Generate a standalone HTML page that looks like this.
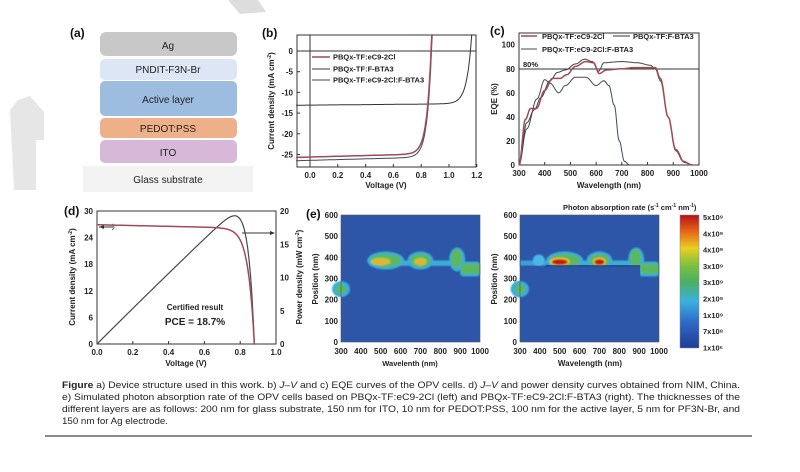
<!DOCTYPE html>
<html><head><meta charset="utf-8"><style>
html,body{margin:0;padding:0;background:#fff;}
svg{display:block;font-family:"Liberation Sans",Arial,sans-serif;}
.t{font-size:8px;font-weight:bold;fill:#222}
.l{font-size:7.5px;font-weight:bold;fill:#222}
.lab{font-size:12px;font-weight:bold;fill:#111}
.cap{font-size:9.2px;fill:#222}
</style></head><body>
<svg id="s" width="800" height="472" viewBox="0 0 800 472" xmlns="http://www.w3.org/2000/svg">
<defs>
<linearGradient id="jet" x1="0" y1="1" x2="0" y2="0">
<stop offset="0" stop-color="#1f3c96"/><stop offset="0.2" stop-color="#2f6cc8"/>
<stop offset="0.35" stop-color="#3bb0e0"/><stop offset="0.5" stop-color="#4cb060"/>
<stop offset="0.62" stop-color="#7cc040"/><stop offset="0.75" stop-color="#e8d020"/>
<stop offset="0.87" stop-color="#e86a18"/><stop offset="1" stop-color="#b8101a"/>
</linearGradient>
<filter id="bl"><feGaussianBlur stdDeviation="0.7"/></filter>
</defs>
<polygon points="228,0 258,0 266,12 240,14" fill="#ddd"/>
<path d="M18,100 L30,96 L44,112 L44,140 L36,140 L36,190 L14,190 L10,110 Z" fill="#e6e6e6"/>

<text x="70" y="37" class="lab">(a)</text>
<rect x="100" y="32" width="137" height="24" rx="6" fill="#c8c8c8"/>
<text x="168" y="49" text-anchor="middle" font-size="10" fill="#222">Ag</text>
<rect x="100" y="59" width="137" height="21" rx="5" fill="#dde6f4"/>
<text x="168" y="73" text-anchor="middle" font-size="10" fill="#222">PNDIT-F3N-Br</text>
<rect x="100" y="81" width="137" height="35" rx="5" fill="#9dbde0"/>
<text x="168" y="103" text-anchor="middle" font-size="10" fill="#222">Active layer</text>
<rect x="100" y="118" width="137" height="20" rx="5" fill="#eeb088"/>
<text x="168" y="132" text-anchor="middle" font-size="10" fill="#222">PEDOT:PSS</text>
<rect x="100" y="140" width="137" height="23" rx="5" fill="#d8b8d8"/>
<text x="168" y="156" text-anchor="middle" font-size="10" fill="#222">ITO</text>
<rect x="83" y="166" width="170" height="26" fill="#f3f3f3"/>
<text x="168" y="183" text-anchor="middle" font-size="10" fill="#222">Glass substrate</text>

<text x="262" y="37" class="lab">(b)</text>
<rect x="297" y="35" width="179" height="132" fill="none" stroke="#333" stroke-width="1"/>
<line x1="297" y1="51" x2="476" y2="51" stroke="#333" stroke-width="1"/>
<line x1="310" y1="35" x2="310" y2="167" stroke="#333" stroke-width="1"/>
<g id="bt"></g>
<text x="386" y="188" text-anchor="middle" class="t">Voltage (V)</text>
<text transform="translate(274,101) rotate(-90)" text-anchor="middle" class="t">Current density (mA cm<tspan dy="-3" font-size="5">-2</tspan><tspan dy="3">)</tspan></text>
<line x1="312" y1="57" x2="330" y2="57" stroke="#a04a55" stroke-width="1.5"/>
<text x="333" y="59.5" class="l">PBQx-TF:eC9-2Cl</text>
<line x1="312" y1="69" x2="330" y2="69" stroke="#333" stroke-width="1"/>
<text x="333" y="71.5" class="l">PBQx-TF:F-BTA3</text>
<line x1="312" y1="80" x2="330" y2="80" stroke="#3d4a5a" stroke-width="1"/>
<text x="333" y="82.5" class="l">PBQx-TF:eC9-2Cl:F-BTA3</text>

<text x="490" y="35" class="lab">(c)</text>
<rect x="519" y="33" width="180" height="132" fill="none" stroke="#333"/>
<line x1="519" y1="69" x2="699" y2="69" stroke="#333"/>
<text x="523" y="67" class="l">80%</text>
<g id="ct"></g>
<text x="609" y="188" text-anchor="middle" class="t">Wavelength (nm)</text>
<text transform="translate(497,99) rotate(-90)" text-anchor="middle" class="t">EQE (%)</text>
<line x1="521" y1="36" x2="537" y2="36" stroke="#a04a55" stroke-width="1.5"/>
<text x="542" y="39" class="l">PBQx-TF:eC9-2Cl</text>
<line x1="613" y1="36" x2="630" y2="36" stroke="#333"/>
<text x="633" y="39" class="l">PBQx-TF:F-BTA3</text>
<line x1="521" y1="49" x2="537" y2="49" stroke="#3d4a5a"/>
<text x="542" y="52" class="l">PBQx-TF:eC9-2Cl:F-BTA3</text>

<text x="64" y="215" class="lab">(d)</text>
<rect x="97" y="211" width="179" height="133" fill="none" stroke="#333"/>
<g id="dt"></g>
<text x="186" y="366" text-anchor="middle" class="t">Voltage (V)</text>
<text transform="translate(75,277) rotate(-90)" text-anchor="middle" class="t">Current density (mA cm<tspan dy="-3" font-size="5">-2</tspan><tspan dy="3">)</tspan></text>
<text transform="translate(302,277) rotate(-90)" text-anchor="middle" class="t">Power density (mW cm<tspan dy="-3" font-size="5">-2</tspan><tspan dy="3">)</tspan></text>
<text x="195" y="310" text-anchor="middle" class="t" font-size="8.5">Certified result</text>
<text x="195" y="325" text-anchor="middle" font-size="10" font-weight="bold" fill="#222">PCE = 18.7%</text>
<line x1="99" y1="227" x2="113" y2="227" stroke="#333"/>
<polygon points="99,227 104,225 104,229" fill="#333"/>
<path d="M112,224 q4,3 0,6" fill="none" stroke="#666"/>
<line x1="242" y1="233" x2="273" y2="233" stroke="#333"/>
<polygon points="275,233 270,231 270,235" fill="#333"/>

<text x="306" y="218" class="lab">(e)</text>
<g id="e1"></g><g id="e2"></g>
<text x="410" y="366" text-anchor="middle" class="l">Wavelenth (nm)</text>
<text x="590" y="366" text-anchor="middle" class="t">Wavelength (nm)</text>
<text transform="translate(318,279) rotate(-90)" text-anchor="middle" class="t">Position (nm)</text>
<text transform="translate(497,279) rotate(-90)" text-anchor="middle" class="t">Position (nm)</text>
<text x="563" y="210" class="l">Photon absorption rate (s<tspan dy="-3" font-size="5">-1</tspan><tspan dy="3"> cm</tspan><tspan dy="-3" font-size="5">-1</tspan><tspan dy="3"> nm</tspan><tspan dy="-3" font-size="5">-1</tspan><tspan dy="3">)</tspan></text>
<rect x="680" y="215" width="19" height="133" fill="url(#jet)" stroke="#888" stroke-width="0.5"/>
<g id="cb"></g>

<text x="62" y="388" class="cap" textLength="678" lengthAdjust="spacingAndGlyphs"><tspan font-weight="bold">Figure</tspan>     a) Device structure used in this work. b) <tspan font-style="italic">J–V</tspan> and c) EQE curves of the OPV cells. d) <tspan font-style="italic">J–V</tspan> and power density curves obtained from NIM, China.</text>
<text x="62" y="400" class="cap" textLength="678" lengthAdjust="spacingAndGlyphs">e) Simulated photon absorption rate of the OPV cells based on PBQx-TF:eC9-2Cl (left) and PBQx-TF:eC9-2Cl:F-BTA3 (right). The thicknesses of the</text>
<text x="62" y="412" class="cap" textLength="678" lengthAdjust="spacingAndGlyphs">different layers are as follows: 200 nm for glass substrate, 150 nm for ITO, 10 nm for PEDOT:PSS, 100 nm for the active layer, 5 nm for PF3N-Br, and</text>
<text x="62" y="424" class="cap" textLength="106" lengthAdjust="spacingAndGlyphs">150 nm for Ag electrode.</text>
<line x1="45" y1="436" x2="752" y2="436" stroke="#444" stroke-width="1.2"/>
</svg>
<script>
const NS="http://www.w3.org/2000/svg";
function el(g,tag,a,txt){const e=document.createElementNS(NS,tag);for(const k in a)e.setAttribute(k,a[k]);if(txt!==undefined)e.textContent=txt;(typeof g==="string"?document.getElementById(g):g).appendChild(e);return e;}
function P(pts){return "M"+pts.map(p=>p[0].toFixed(1)+","+p[1].toFixed(1)).join(" L");}
const bx=v=>310+v*139, by=j=>51-j*4.14;
[0.0,0.2,0.4,0.6,0.8,1.0,1.2].forEach(v=>{el("bt","line",{x1:bx(v),y1:167,x2:bx(v),y2:164,stroke:"#333"});el("bt","text",{x:bx(v),y:178,"text-anchor":"middle",class:"t"},v.toFixed(1));});
[0,-5,-10,-15,-20,-25].forEach(j=>{el("bt","line",{x1:297,y1:by(j),x2:300,y2:by(j),stroke:"#333"});el("bt","text",{x:293,y:by(j)+3,"text-anchor":"end",class:"t"},j);});
function jv(jsc,voc,s,sl,col,w,g){const pts=[];for(let v=-0.1;v<=1.25;v+=0.004){let j=-jsc+sl*(v+0.1)+jsc*Math.exp((v-voc)/s);if(j>4){pts.push([bx(v),by(4)]);break;}pts.push([bx(v),by(j)]);}el(g,"path",{d:P(pts),fill:"none",stroke:col,"stroke-width":w});}
jv(13.1,1.155,0.035,0.3,"#333",1,"bt");
jv(26.5,0.875,0.032,0.9,"#3d4a5a",1,"bt");
jv(25.7,0.872,0.032,0.9,"#a04a55",1.5,"bt");
const cx=w=>519+(w-300)*0.2571, cy=e=>165-e*1.203;
[300,400,500,600,700,800,900,1000].forEach(w=>{el("ct","line",{x1:cx(w),y1:165,x2:cx(w),y2:162,stroke:"#333"});el("ct","text",{x:cx(w),y:176,"text-anchor":"middle",class:"t"},w);});
[0,20,40,60,80,100].forEach(e=>{el("ct","text",{x:515,y:cy(e)+3,"text-anchor":"end",class:"t"},e);});
function sm(arr){const pts=[];for(let i=0;i<arr.length-1;i++){const[a,b]=[arr[i],arr[i+1]];for(let t=0;t<1;t+=0.1){const u=(1-Math.cos(t*Math.PI))/2;pts.push([cx(a[0]+(b[0]-a[0])*t),cy(a[1]+(b[1]-a[1])*u)]);}}const l=arr[arr.length-1];pts.push([cx(l[0]),cy(l[1])]);return P(pts);}
el("ct","path",{d:sm([[300,0],[330,35],[360,46],[385,56],[420,70],[450,77],[480,79],[520,84],[555,88],[585,86],[610,78],[630,85],[700,86],[760,85],[810,83],[830,80],[850,70],[880,40],[910,13],[945,2],[980,0]]),fill:"none",stroke:"#444","stroke-width":1});
el("ct","path",{d:sm([[300,0],[330,30],[370,55],[400,71],[420,68],[455,60],[480,66],[520,73],[560,73],[600,66],[630,70],[650,66],[670,50],[690,20],[710,3],[730,0]]),fill:"none",stroke:"#3d4a5a","stroke-width":1});
el("ct","path",{d:sm([[300,0],[325,38],[345,47],[368,47],[400,62],[430,72],[460,72],[485,75],[520,82],[560,86],[590,85],[612,76],[640,79],[700,80],[750,81],[800,81],[830,81],[850,72],[880,40],[910,12],[940,3],[970,0]]),fill:"none",stroke:"#a04a55","stroke-width":1.5});
const dx=v=>97+v*179, dy=j=>344-j*4.433, dp=p=>344-p*6.65;
[0,0.2,0.4,0.6,0.8,1.0].forEach(v=>{el("dt","line",{x1:dx(v),y1:344,x2:dx(v),y2:341,stroke:"#333"});el("dt","text",{x:dx(v),y:355,"text-anchor":"middle",class:"t"},v.toFixed(1));});
[0,6,12,18,24,30].forEach(j=>el("dt","text",{x:93,y:dy(j)+3,"text-anchor":"end",class:"t"},j));
[0,5,10,15,20].forEach(p=>el("dt","text",{x:280,y:dp(p)+3,class:"t"},p));
{const J=[],Pw=[];for(let v=0;v<=0.885;v+=0.003){let j=26.9-0.9*v-26.9*Math.exp((v-0.88)/0.035);if(j<0)j=0;J.push([dx(v),dy(j)]);Pw.push([dx(v),dp(j*v)]);}
el("dt","path",{d:P(Pw),fill:"none",stroke:"#3d4a5a","stroke-width":1.2});
el("dt","path",{d:P(J),fill:"none",stroke:"#a04a55","stroke-width":1.5});}
function heat(g,x0,x1,right){const W=x1-x0,T=215,B=342;const ex=w=>x0+(w-300)*W/700, ey=p=>B-p*(B-T)/600;
el(g,"rect",{x:x0,y:T,width:W,height:B-T,fill:"#2d56a8"});
const gg=el(g,"g",{filter:"url(#bl)"});
const R=a=>el(gg,"ellipse",a);
const RR=a=>el(gg,"rect",a);
R({cx:ex(300),cy:ey(250),rx:9,ry:8,fill:"#3aaed8"});R({cx:ex(300),cy:ey(250),rx:5,ry:5,fill:"#5cb860"});
RR({x:ex(445),y:ey(385),width:ex(905)-ex(445),height:ey(360)-ey(385),fill:"#3aaed8"});
R({cx:ex(885),cy:ey(390),rx:8,ry:12,fill:"#3aaed8"});
R({cx:ex(882),cy:ey(395),rx:5.5,ry:9.5,fill:"#5cb860"});
RR({x:ex(900),y:ey(380),width:ex(1000)-ex(900),height:ey(310)-ey(380),fill:"#3aaed8",rx:3});
RR({x:ex(905),y:ey(370),width:ex(1000)-ex(905),height:ey(322)-ey(370),fill:"#5cb860",rx:3});
if(right){RR({x:ex(300),y:ey(385),width:ex(440)-ex(300),height:ey(360)-ey(385),fill:"#3a9ed8"});R({cx:ex(395),cy:ey(385),rx:6,ry:6,fill:"#4ab8e4"});}
[[525,78,500],[700,50,700]].forEach(([c,r,cc])=>{R({cx:ex(c),cy:ey(385),rx:r*W/700+3,ry:9,fill:"#3aaed8"});R({cx:ex(c),cy:ey(385),rx:r*W/700,ry:6.5,fill:"#5cb860"});R({cx:ex(cc),cy:ey(380),rx:r*W/700*0.65,ry:4,fill:right?"#f0c020":"#a8cc40"});R({cx:ex(cc),cy:ey(378),rx:r*W/700*0.5,ry:2.8,fill:right?"#c41818":"#e8b030"});});
if(right){el(g,"rect",{x:x0,y:ey(360),width:ex(905)-x0,height:ey(0)-ey(360),fill:"#2d56a8"});el(g,"line",{x1:ex(430),y1:ey(360),x2:ex(905),y2:ey(360),stroke:"#1a2a60","stroke-width":0.8});
const g2=el(g,"g",{filter:"url(#bl)"});el(g2,"ellipse",{cx:ex(300),cy:ey(250),rx:9,ry:8,fill:"#3aaed8"});el(g2,"ellipse",{cx:ex(300),cy:ey(250),rx:5,ry:5,fill:"#5cb860"});}
el(g,"rect",{x:x0,y:T,width:W,height:B-T,fill:"none",stroke:"#555","stroke-width":0.6});
[300,400,500,600,700,800,900,1000].forEach(w=>el(g,"text",{x:ex(w),y:354,"text-anchor":"middle",class:"t"},w));
[0,100,200,300,400,500,600].forEach(p=>el(g,"text",{x:x0-3,y:ey(p)+3,"text-anchor":"end",class:"t"},p));}
heat("e1",341,480,false);heat("e2",520,659,true);
["5x10⁹","4x10⁹","4x10⁹","3x10⁹","3x10⁹","2x10⁹","1x10⁹","7x10⁸","1x10⁶"].forEach((s,i)=>{const y=217+i*16.3;el("cb","text",{x:703,y:y+3,class:"l"},s);});
</script>
</body></html>
